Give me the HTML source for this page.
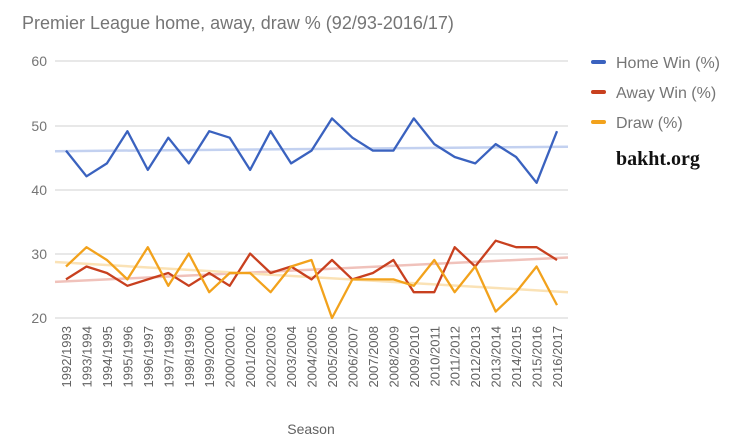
<!DOCTYPE html>
<html><head><meta charset="utf-8"><style>body{margin:0;background:#fff}svg{display:block}text{font-family:"Liberation Sans",sans-serif}</style></head><body>
<svg width="747" height="447" viewBox="0 0 747 447">
<text x="22" y="29" font-size="18" fill="#757575">Premier League home, away, draw % (92/93-2016/17)</text>
<g stroke="#e0e0e0" stroke-width="1.5">
<line x1="55" x2="568" y1="61" y2="61"/><line x1="55" x2="568" y1="126" y2="126"/><line x1="55" x2="568" y1="190" y2="190"/><line x1="55" x2="568" y1="254" y2="254"/><line x1="55" x2="568" y1="318" y2="318"/></g>
<g font-size="14" fill="#757575" text-anchor="end"><text x="47" y="66">60</text><text x="47" y="131">50</text><text x="47" y="195">40</text><text x="47" y="259">30</text><text x="47" y="323">20</text></g>
<g stroke-width="2.5" opacity="0.45">
<line x1="55" y1="151.2" x2="568" y2="146.7" stroke="#7b9be0"/>
<line x1="55" y1="281.9" x2="568" y2="257.5" stroke="#e07a6a"/>
<line x1="55" y1="262" x2="568" y2="292.2" stroke="#f5c060"/></g>
<g fill="none" stroke-width="2.3" stroke-linejoin="round">
<polyline stroke="#3a62bf" points="66,150.6 86.5,176.3 106.9,163.4 127.4,131.2 147.8,169.9 168.3,137.7 188.8,163.4 209.2,131.2 229.7,137.7 250.1,169.9 270.6,131.2 291.1,163.4 311.5,150.6 332,118.4 352.4,137.7 372.9,150.6 393.4,150.6 413.8,118.4 434.3,144.1 454.7,157 475.2,163.4 495.7,144.1 516.1,157 536.6,182.8 557,131.2"/>
<polyline stroke="#c8401f" points="66,279.4 86.5,266.5 106.9,273 127.4,285.8 147.8,279.4 168.3,273 188.8,285.8 209.2,273 229.7,285.8 250.1,253.6 270.6,273 291.1,266.5 311.5,279.4 332,260 352.4,279.4 372.9,273 393.4,260 413.8,292.2 434.3,292.2 454.7,247.2 475.2,266.5 495.7,240.7 516.1,247.2 536.6,247.2 557,260"/>
<polyline stroke="#f2a21c" points="66,266.5 86.5,247.2 106.9,260 127.4,279.4 147.8,247.2 168.3,285.8 188.8,253.6 209.2,292.2 229.7,273 250.1,273 270.6,292.2 291.1,266.5 311.5,260 332,318 352.4,279.4 372.9,279.4 393.4,279.4 413.8,285.8 434.3,260 454.7,292.2 475.2,266.5 495.7,311.6 516.1,292.2 536.6,266.5 557,305.1"/>
</g>
<g font-size="13" fill="#616161" text-anchor="end">
<text transform="translate(71,326) rotate(-90)">1992/1993</text><text transform="translate(91.5,326) rotate(-90)">1993/1994</text><text transform="translate(111.9,326) rotate(-90)">1994/1995</text><text transform="translate(132.4,326) rotate(-90)">1995/1996</text><text transform="translate(152.8,326) rotate(-90)">1996/1997</text><text transform="translate(173.3,326) rotate(-90)">1997/1998</text><text transform="translate(193.8,326) rotate(-90)">1998/1999</text><text transform="translate(214.2,326) rotate(-90)">1999/2000</text><text transform="translate(234.7,326) rotate(-90)">2000/2001</text><text transform="translate(255.1,326) rotate(-90)">2001/2002</text><text transform="translate(275.6,326) rotate(-90)">2002/2003</text><text transform="translate(296.1,326) rotate(-90)">2003/2004</text><text transform="translate(316.5,326) rotate(-90)">2004/2005</text><text transform="translate(337,326) rotate(-90)">2005/2006</text><text transform="translate(357.4,326) rotate(-90)">2006/2007</text><text transform="translate(377.9,326) rotate(-90)">2007/2008</text><text transform="translate(398.4,326) rotate(-90)">2008/2009</text><text transform="translate(418.8,326) rotate(-90)">2009/2010</text><text transform="translate(439.3,326) rotate(-90)">2010/2011</text><text transform="translate(459.7,326) rotate(-90)">2011/2012</text><text transform="translate(480.2,326) rotate(-90)">2012/2013</text><text transform="translate(500.7,326) rotate(-90)">2013/2014</text><text transform="translate(521.1,326) rotate(-90)">2014/2015</text><text transform="translate(541.6,326) rotate(-90)">2015/2016</text><text transform="translate(562,326) rotate(-90)">2016/2017</text>
</g>
<text x="311" y="434" font-size="14" fill="#616161" text-anchor="middle">Season</text>
<g stroke-width="4" stroke-linecap="round"><line x1="593" x2="604" y1="62" y2="62" stroke="#3a62bf"/><line x1="593" x2="604" y1="92" y2="92" stroke="#c8401f"/><line x1="593" x2="604" y1="122" y2="122" stroke="#f2a21c"/></g>
<g font-size="16" fill="#757575"><text x="616" y="68">Home Win (%)</text><text x="616" y="98">Away Win (%)</text><text x="616" y="128">Draw (%)</text></g>
<text x="616" y="165" font-size="20" font-weight="bold" fill="#111" style="font-family:'Liberation Serif',serif">bakht.org</text>
</svg>
</body></html>
